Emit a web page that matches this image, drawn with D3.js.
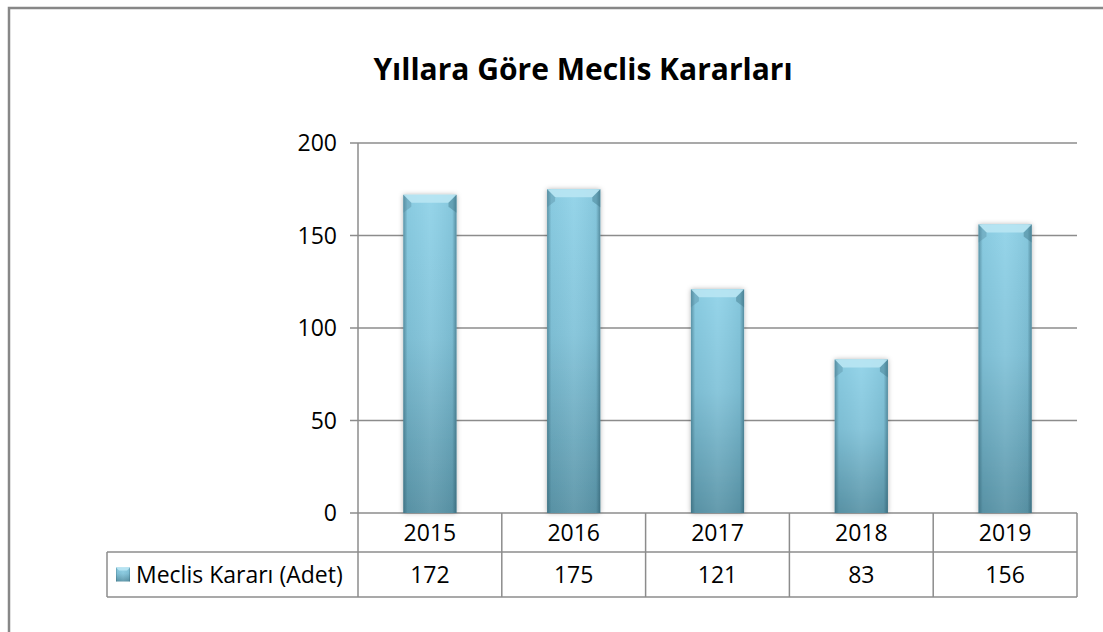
<!DOCTYPE html>
<html>
<head>
<meta charset="utf-8">
<script src="https://cdn.jsdelivr.net/npm/d3@7"></script>
<style>
  body { margin: 0; background: #fff; }
  svg text { font-family: "Open Sans", "Noto Sans", sans-serif; fill: #000; }
</style>
</head>
<body>
<script>
/* ---------------------------------- data ---------------------------------- */
const years = ["2015", "2016", "2017", "2018", "2019"];
const counts = [172, 175, 121, 83, 156];
const seriesName = "Meclis Kararı (Adet)";
const yTicks = [0, 50, 100, 150, 200];
const title = "Yıllara Göre Meclis Kararları";

/* ------------------------------ document size ----------------------------- */
const width = 1103, height = 632;
const plot = { left: 358, right: 1077, top: 143, bottom: 513 };
const rowH = [39, 45];
const legendLeft = 107;
const lineCol = "#8c8c8c";
const fs = 23;

const svg = d3.select("body").append("svg")
    .attr("width", width)
    .attr("height", height);

const defs = svg.append("defs");
const vg = defs.append("linearGradient").attr("id", "barV")
    .attr("x1", 0).attr("y1", 0).attr("x2", 0).attr("y2", 1);
vg.append("stop").attr("offset", "0%").attr("stop-color", "#8fd2e8");
vg.append("stop").attr("offset", "45%").attr("stop-color", "#82c3d9");
vg.append("stop").attr("offset", "100%").attr("stop-color", "#5b95a8");
const hg = defs.append("linearGradient").attr("id", "barH")
    .attr("x1", 0).attr("y1", 0).attr("x2", 1).attr("y2", 0);
hg.append("stop").attr("offset", "0%").attr("stop-color", "#1e4a5a").attr("stop-opacity", 0.45);
hg.append("stop").attr("offset", "8%").attr("stop-color", "#1e4a5a").attr("stop-opacity", 0.05);
hg.append("stop").attr("offset", "50%").attr("stop-color", "#ffffff").attr("stop-opacity", 0.06);
hg.append("stop").attr("offset", "92%").attr("stop-color", "#1e4a5a").attr("stop-opacity", 0.08);
hg.append("stop").attr("offset", "100%").attr("stop-color", "#1e4a5a").attr("stop-opacity", 0.5);
const sh = defs.append("filter").attr("id", "shadow")
    .attr("x", "-20%").attr("y", "-5%").attr("width", "140%").attr("height", "110%");
sh.append("feDropShadow").attr("dx", 0).attr("dy", 0).attr("stdDeviation", 2.5)
    .attr("flood-color", "#000").attr("flood-opacity", 0.3);

/* --------------------------------- frame ---------------------------------- */
svg.append("path")
    .attr("d", `M9,${height} V8 H${width}`)
    .attr("fill", "none").attr("stroke", "#878787").attr("stroke-width", 2.5);

svg.append("text")
    .attr("x", 583).attr("y", 80)
    .attr("text-anchor", "middle")
    .attr("font-size", 30).attr("font-weight", "bold")
    .text(title);

/* --------------------------------- scales --------------------------------- */
const x = d3.scaleBand().domain(years).range([plot.left, plot.right]);
const y = d3.scaleLinear().domain([0, 200]).range([plot.bottom, plot.top]);

/* ---------------------------------- grid ---------------------------------- */
svg.append("g").selectAll("line").data(yTicks).join("line")
    .attr("x1", plot.left - 8).attr("x2", plot.right)
    .attr("y1", d => y(d)).attr("y2", d => y(d))
    .attr("stroke", lineCol).attr("stroke-width", 1.5);

svg.append("g").selectAll("text").data(yTicks).join("text")
    .attr("x", 337).attr("y", d => y(d))
    .attr("dy", "0.35em").attr("text-anchor", "end")
    .attr("font-size", fs)
    .text(d => d);

/* ---------------------------------- bars ---------------------------------- */
const bw = x.bandwidth() * 0.37;
const bars = svg.append("g").selectAll("g").data(years).join("g")
    .attr("transform", (d, i) => `translate(${x(d) + (x.bandwidth() - bw) / 2},${y(counts[i])})`);
bars.append("rect")
    .attr("width", bw).attr("height", (d, i) => y(0) - y(counts[i]))
    .attr("fill", "url(#barV)").attr("filter", "url(#shadow)");
bars.append("rect")
    .attr("width", bw).attr("height", (d, i) => y(0) - y(counts[i]))
    .attr("fill", "url(#barH)");
// top bevel
bars.append("path")
    .attr("d", `M0,0 H${bw} L${bw - 8},8 H8 Z`)
    .attr("fill", "#b9e5f3").attr("opacity", 0.9);
bars.append("path")
    .attr("d", `M0,0 L8,8 V12 L0,18 Z`)
    .attr("fill", "#4f8597").attr("opacity", 0.35);
bars.append("path")
    .attr("d", `M${bw},0 L${bw - 8},8 V12 L${bw},18 Z`)
    .attr("fill", "#3f7587").attr("opacity", 0.45);

/* --------------------------------- table ---------------------------------- */
const r1 = plot.bottom + rowH[0], r2 = r1 + rowH[1];
const tbl = svg.append("g").attr("stroke", lineCol).attr("stroke-width", 1.5).attr("fill", "none");
tbl.append("line").attr("x1", legendLeft).attr("x2", plot.right).attr("y1", r1).attr("y2", r1);
tbl.append("line").attr("x1", legendLeft).attr("x2", plot.right).attr("y1", r2).attr("y2", r2);
tbl.append("line").attr("x1", legendLeft).attr("x2", legendLeft).attr("y1", r1).attr("y2", r2);
tbl.append("line").attr("x1", plot.left).attr("x2", plot.left).attr("y1", plot.top).attr("y2", r2);
tbl.selectAll(".sep").data(years).join("line")
    .attr("x1", d => x(d) + x.bandwidth()).attr("x2", d => x(d) + x.bandwidth())
    .attr("y1", plot.bottom).attr("y2", r2);

svg.append("g").selectAll("text").data(years).join("text")
    .attr("x", d => x(d) + x.bandwidth() / 2).attr("y", plot.bottom + rowH[0] / 2)
    .attr("dy", "0.35em").attr("text-anchor", "middle").attr("font-size", fs)
    .text(d => d);

svg.append("g").selectAll("text").data(counts).join("text")
    .attr("x", (d, i) => x(years[i]) + x.bandwidth() / 2).attr("y", r1 + rowH[1] / 2)
    .attr("dy", "0.35em").attr("text-anchor", "middle").attr("font-size", fs)
    .text(d => d);

// legend key
const lk = svg.append("g").attr("transform", `translate(116,${r1 + rowH[1] / 2 - 7})`);
lk.append("rect").attr("width", 14).attr("height", 14).attr("fill", "url(#barV)");
lk.append("rect").attr("width", 14).attr("height", 14).attr("fill", "url(#barH)");
lk.append("path").attr("d", "M0,0 H14 L11,3 H3 Z").attr("fill", "#b6e3f2");
svg.append("text")
    .attr("x", 136).attr("y", r1 + rowH[1] / 2)
    .attr("dy", "0.35em").attr("font-size", fs)
    .text(seriesName);
</script>
</body>
</html>
